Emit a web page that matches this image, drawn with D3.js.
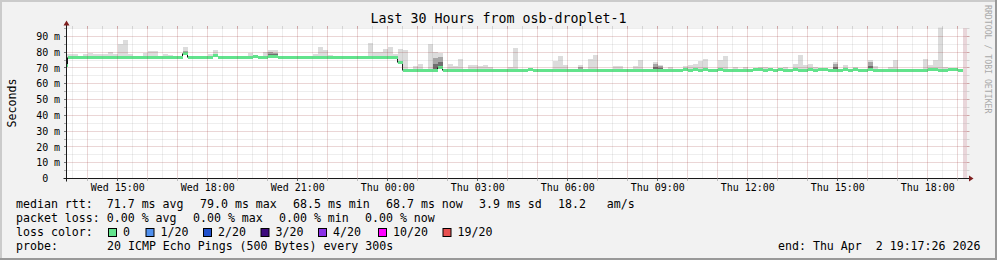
<!DOCTYPE html>
<html><head><meta charset="utf-8">
<script src="https://cdn.jsdelivr.net/npm/d3@7"></script>
<style>
html,body{margin:0;padding:0;background:#f2f2f2;}
svg{display:block;}
text{font-family:"DejaVu Sans Mono",monospace;white-space:pre;}
</style></head><body>
<svg id="chart" width="997" height="260"></svg>
<script>
// ---------- data ----------
const titleText = "Last 30 Hours from osb-droplet-1";
const startTime = "2026-04-01T13:17:26Z";
const endTime = "2026-04-02T19:17:26Z";
const firstColumn = "2026-04-01T13:10:00Z";
const columnMinutes = 10;

// median rtt per 10-minute column (ms)
const median = [
71.6,77.0,77.0,77.0,77.0,77.0,77.0,77.0,77.0,77.0,
77.0,77.0,77.0,77.0,77.0,77.0,77.0,77.0,77.0,77.0,
77.0,77.0,77.0,77.0,79.4,77.0,77.0,77.0,77.0,77.0,
78.0,77.0,77.0,77.0,77.0,77.0,77.0,77.0,77.7,77.0,
77.0,77.7,77.7,77.0,77.0,77.0,77.0,77.0,77.0,77.0,
77.0,77.0,77.0,77.0,77.0,77.0,77.0,77.0,77.0,77.0,
77.0,77.0,77.0,77.0,77.0,77.0,77.0,73.7,68.7,68.7,
68.7,68.7,68.7,68.7,68.7,70.5,68.7,68.7,68.7,68.7,
68.7,68.7,68.7,68.7,68.7,68.7,68.7,68.7,68.7,68.7,
68.7,68.7,68.7,69.3,68.7,68.7,68.7,68.7,68.7,68.7,
68.7,68.7,68.7,68.7,68.7,68.7,68.7,68.7,68.7,68.7,
68.7,68.7,68.7,68.7,68.7,68.7,68.7,68.7,68.7,68.7,
68.7,68.7,68.7,68.7,69.3,68.7,69.3,68.7,69.3,68.7,
68.7,69.3,68.7,68.7,68.7,68.7,68.7,68.7,69.3,69.3,
68.7,69.3,68.7,69.3,68.7,68.7,69.3,68.7,68.7,69.3,
68.7,69.3,69.3,68.7,68.7,68.7,69.3,68.7,69.3,68.7,
68.7,69.3,68.7,68.7,68.7,68.7,68.7,68.7,68.7,68.7,
68.7,68.7,68.7,69.3,69.3,68.7,68.7,69.3,69.3,68.7
];
// highest ping per column (top of smoke, ms)
const smokeMax = [
79.0,78.6,78.6,77.0,79.0,79.4,78.6,78.6,78.6,80.3,
79.0,84.9,88.0,78.6,77.0,77.0,79.2,80.9,81.0,77.0,
79.0,77.9,77.0,77.0,83.0,77.0,77.0,77.7,77.0,78.8,
81.1,77.0,77.0,77.0,77.0,77.0,77.0,79.6,77.9,77.0,
80.0,81.7,81.1,77.0,77.0,77.0,77.0,77.0,77.0,77.0,
78.6,83.6,81.7,77.9,77.0,77.0,77.0,77.0,77.0,77.0,
77.0,86.0,80.0,80.0,82.1,83.2,79.0,82.1,81.1,68.7,
71.1,72.8,68.7,85.5,80.0,79.2,68.7,72.6,71.5,75.8,
68.7,71.6,71.6,71.1,72.0,70.5,68.7,68.7,68.7,70.9,
82.8,68.7,68.7,69.3,68.7,68.7,68.7,68.7,74.7,77.3,
72.0,68.7,68.7,71.6,68.7,75.8,78.3,68.7,68.7,68.7,
71.1,71.1,68.7,68.7,71.1,75.2,68.7,68.7,73.7,72.0,
68.7,70.7,68.7,68.7,71.1,72.0,72.6,74.7,75.5,68.7,
68.7,75.2,77.3,68.7,70.9,68.7,70.5,68.7,69.3,70.7,
70.9,69.3,68.7,69.3,70.9,68.7,72.6,78.5,72.0,72.6,
70.5,69.3,69.3,68.7,73.5,68.7,71.6,68.7,70.9,68.7,
68.7,75.2,71.1,68.7,68.7,70.9,75.2,68.7,68.7,68.7,
68.7,68.7,75.8,71.6,75.2,96.0,70.9,69.3,69.3,68.7
];
// columns with a dense (darker) smoke band and its top (ms)
const darkCols = [24, 41, 42, 74, 75, 103, 118, 119, 154, 161];
const darkTop  = [81.0, 80.0, 79.5, 76.0, 77.0, 70.5, 72.5, 71.0, 72.8, 73.5];

const yTicks = [0,10,20,30,40,50,60,70,80,90];
const yMinor = [5,15,25,35,45,55,65,75,85,95];
const yMax = 95;

const legendRtt = [["median rtt:  71.7 ms avg",16],["79.0 ms max",200],["68.5 ms min",293],["68.7 ms now",386],["3.9 ms sd",479],["18.2   am/s",558]];
const legendLoss = [["packet loss: 0.00 % avg",16],["0.00 % max",193],["0.00 % min",279],["0.00 % now",365]];
const lossLabels = ["0","1/20","2/20","3/20","4/20","10/20","19/20"];
const lossColors = ["#62e38c","#5090ee","#2050cc","#3c0a7c","#8a30e6","#ff00ff","#e85050"];
const lossBoxX   = [108,145.5,203,260.5,318,378,442.5];
const probeText = "20 ICMP Echo Pings (500 Bytes) every 300s";
const endText = "end: Thu Apr  2 19:17:26 2026";

// ---------- drawing ----------
const svg = d3.select("#chart");
const W = 997, H = 260;
const X0 = 66.5, X1 = 966.5, Y0 = 178.5, Y1 = 28.5;
const t0 = new Date(startTime), t1 = new Date(endTime), tc = new Date(firstColumn);
const x = d3.scaleUtc().domain([t0, t1]).range([X0, X1]);
const y = d3.scaleLinear().domain([0, yMax]).range([Y0, Y1]);
const crisp = v => Math.round(v - 0.5) + 0.5;

// background + border shading
svg.append("rect").attr("width", W).attr("height", H).attr("fill", "#f2f2f2");
svg.append("rect").attr("x",0).attr("y",0).attr("width",W).attr("height",2).attr("fill","#cbcbcb");
svg.append("rect").attr("x",0).attr("y",0).attr("width",2).attr("height",H).attr("fill","#cbcbcb");
svg.append("rect").attr("x",0).attr("y",H-2).attr("width",W).attr("height",2).attr("fill","#999");
svg.append("rect").attr("x",W-2).attr("y",0).attr("width",2).attr("height",H).attr("fill","#999");

// canvas
svg.append("rect").attr("x", X0+0.5).attr("y", Y1-0.5).attr("width", X1-X0).attr("height", Y0-Y1)
  .attr("fill", "#fff");

svg.append("defs").append("clipPath").attr("id","plot")
  .append("rect").attr("x", X0+0.5).attr("y", Y1-1).attr("width", X1-X0).attr("height", Y0-Y1+1);

const cols = median.map((m, i) => {
  const s = d3.utcMinute.offset(tc, i*columnMinutes);
  return {i, s, e: d3.utcMinute.offset(s, columnMinutes), med: m, max: smokeMax[i]};
});
const px = v => Math.round(v);

const gPlot = svg.append("g").attr("clip-path","url(#plot)");
// smoke
gPlot.selectAll("rect.smoke").data(cols.filter(d => d.max > d.med)).join("rect")
  .attr("x", d => px(x(d.s))).attr("width", d => px(x(d.e)) - px(x(d.s)))
  .attr("y", d => px(y(d.max))).attr("height", d => px(y(d.med)) - px(y(d.max)))
  .attr("fill", "#dcdcdc");
const dark = darkCols.map((c, k) => ({c: cols[c], top: darkTop[k]}));
gPlot.selectAll("rect.dark").data(dark).join("rect")
  .attr("x", d => px(x(d.c.s))).attr("width", d => px(x(d.c.e)) - px(x(d.c.s)))
  .attr("y", d => px(y(d.top))).attr("height", d => px(y(d.c.med)) - px(y(d.top)))
  .attr("fill", "#a6a6a6");
gPlot.selectAll("rect.dark2").data(dark).join("rect")
  .attr("x", d => px(x(d.c.s))).attr("width", d => px(x(d.c.e)) - px(x(d.c.s)))
  .attr("y", d => px(y((d.top + d.c.med)/2))).attr("height", d => px(y(d.c.med)) - px(y((d.top + d.c.med)/2)))
  .attr("fill", "#6e6e6e");

// region after the last complete column
const lastEnd = cols[cols.length-1].e;
svg.append("rect").attr("x", px(x(lastEnd))).attr("y", Y1-0.5)
  .attr("width", X1 + 0.5 - px(x(lastEnd))).attr("height", Y0 - Y1)
  .attr("fill", "#e9d6da");

// grid
const gGrid = svg.append("g");
const minorCol = "rgba(140,140,140,0.30)", majorCol = "rgba(150,40,40,0.38)";
const hours = d3.utcHour.range(t0, t1);
const halfHours = d3.utcMinute.every(30).range(t0, t1).filter(t => t.getUTCMinutes() === 30);
function vline(t, col) {
  const xx = crisp(x(t));
  gGrid.append("line").attr("x1", xx).attr("x2", xx).attr("y1", Y0-1).attr("y2", Y1)
    .attr("stroke", col).attr("stroke-dasharray","1,1");
  gGrid.append("line").attr("x1", xx).attr("x2", xx).attr("y1", Y1).attr("y2", Y1-2.5).attr("stroke", col);
}
halfHours.forEach(t => vline(t, minorCol));
hours.forEach(t => vline(t, majorCol));
function hline(v, col, tickCol) {
  const yy = crisp(y(v));
  gGrid.append("line").attr("x1", X0+1).attr("x2", X1+0.5).attr("y1", yy).attr("y2", yy)
    .attr("stroke", col).attr("stroke-dasharray","1,1");
  gGrid.append("line").attr("x1", X1+0.5).attr("x2", X1+3).attr("y1", yy).attr("y2", yy).attr("stroke", col);
  gGrid.append("line").attr("x1", X0-2.5).attr("x2", X0).attr("y1", yy).attr("y2", yy).attr("stroke", tickCol);
}
yMinor.forEach(v => hline(v, minorCol, "#aaa"));
yTicks.filter(v => v > 0).forEach(v => hline(v, majorCol, "#777"));

// median: dark risers at larger steps + green segments (pixel-snapped, 3px)
const ly = v => Math.round(y(v)) + 0.5;
const risers = [];
for (let i = 1; i < cols.length; i++) {
  if (Math.abs(cols[i].med - cols[i-1].med) > 1.5) risers.push({t: cols[i].s, a: cols[i-1].med, b: cols[i].med});
}
gPlot.selectAll("line.riser").data(risers).join("line")
  .attr("x1", d => crisp(x(d.t))).attr("x2", d => crisp(x(d.t)))
  .attr("y1", d => ly(d.a)).attr("y2", d => ly(d.b))
  .attr("stroke", "#111").attr("stroke-width", 1);
gPlot.selectAll("line.med").data(cols).join("line")
  .attr("x1", d => px(x(d.s))).attr("x2", d => px(x(d.e)))
  .attr("y1", d => ly(d.med)).attr("y2", d => ly(d.med))
  .attr("stroke", lossColors[0]).attr("stroke-width", 3);

// axes
const axisCol = "#1a1a1a", arrowCol = "#7f1f1f";
svg.append("line").attr("x1", X0).attr("x2", X0).attr("y1", Y0+3).attr("y2", Y1-4)
  .attr("stroke", axisCol);
svg.append("line").attr("x1", X0-3).attr("x2", X1+3).attr("y1", Y0).attr("y2", Y0)
  .attr("stroke", axisCol);
svg.append("path").attr("d", `M${X0},${Y1-8} L${X0-3},${Y1-3} L${X0+3},${Y1-3} Z`).attr("fill", arrowCol);
svg.append("path").attr("d", `M${X1+7},${Y0} L${X1+2.5},${Y0-3} L${X1+2.5},${Y0+3} Z`).attr("fill", arrowCol);

// tick marks below axis for hours
hours.forEach(t => {
  const xx = crisp(x(t));
  svg.append("line").attr("x1", xx).attr("x2", xx).attr("y1", Y0).attr("y2", Y0+2.5)
    .attr("stroke", t.getUTCHours() % 3 === 0 ? "#666" : "#bbb");
});

// x labels
const fmt = d3.utcFormat("%a %H:%M");
const labelTimes = d3.utcHour.every(3).range(t0, t1);
svg.selectAll("text.xl").data(labelTimes).join("text")
  .attr("x", d => x(d)).attr("y", 190.8).attr("text-anchor","middle")
  .attr("font-size", "10px").attr("fill","#000").text(d => fmt(d));

// y labels
const gy = svg.append("g");
yTicks.forEach(v => {
  const yy = y(v) + 3.6;
  gy.append("text").attr("x", 48.3).attr("y", yy).attr("text-anchor","end")
    .attr("font-size","10px").text(String(v));
  if (v > 0) gy.append("text").attr("x", 54).attr("y", yy).attr("font-size","10px").text("m");
});

// title, axis title, watermark
svg.append("text").attr("x", W/2).attr("y", 23.2).attr("text-anchor","middle")
  .attr("font-size","13.3px").text(titleText);
svg.append("text").attr("transform","translate(15.5,103) rotate(-90)").attr("text-anchor","middle")
  .attr("font-size","11.6px").text("Seconds");
svg.append("text").attr("transform","translate(984.6,5) rotate(90)")
  .attr("font-size","8.2px").attr("fill","#a9a9a9").text("RRDTOOL / TOBI OETIKER");

// legend
const lf = "11.6px";
legendRtt.forEach(([s, xx]) => svg.append("text").attr("x", xx).attr("y", 207.7).attr("font-size", lf).text(s));
legendLoss.forEach(([s, xx]) => svg.append("text").attr("x", xx).attr("y", 221.7).attr("font-size", lf).text(s));
svg.append("text").attr("x", 16).attr("y", 235.7).attr("font-size", lf).text("loss color:");
lossLabels.forEach((s, i) => {
  svg.append("rect").attr("x", lossBoxX[i] + 0.5).attr("y", 228.5).attr("width", 8).attr("height", 8)
    .attr("fill", lossColors[i]).attr("stroke", "#000").attr("stroke-width", 1);
  svg.append("text").attr("x", lossBoxX[i] + 15).attr("y", 235.7).attr("font-size", lf).text(s);
});
svg.append("text").attr("x", 16).attr("y", 249.7).attr("font-size", lf).text("probe:");
svg.append("text").attr("x", 107).attr("y", 249.7).attr("font-size", lf).text(probeText);
svg.append("text").attr("x", 778).attr("y", 249.7).attr("font-size", lf).text(endText);
</script>
</body></html>
